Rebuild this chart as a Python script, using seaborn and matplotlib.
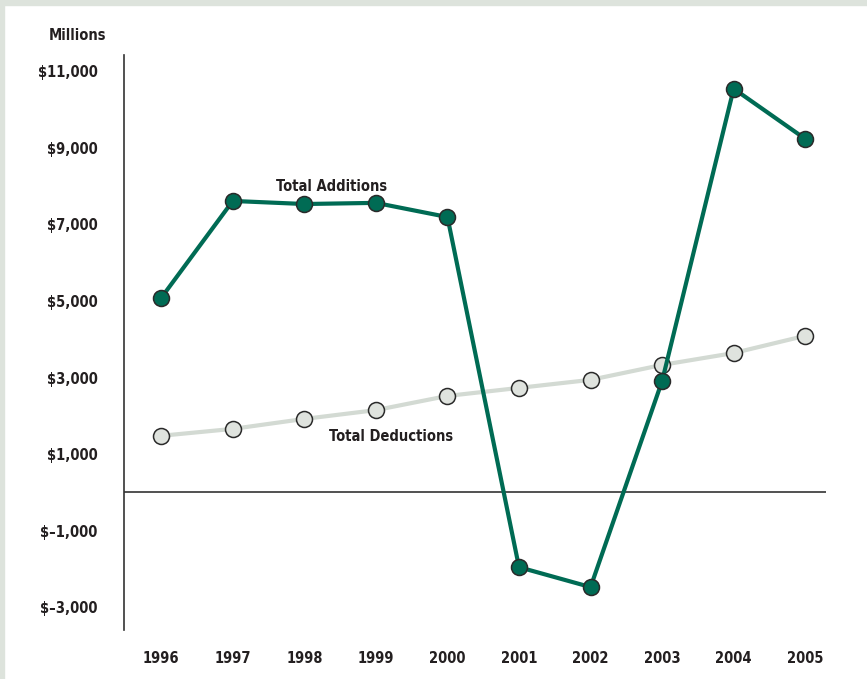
import matplotlib
matplotlib.use("Agg")
import matplotlib.pyplot as plt
import matplotlib.patches as patches
import seaborn as sns
import pandas as pd

years = [1996, 1997, 1998, 1999, 2000, 2001, 2002, 2003, 2004, 2005]
additions = [5080, 7610, 7530, 7560, 7190, -1950, -2470, 2910, 10540, 9230]
deductions = [1480, 1660, 1920, 2150, 2520, 2730, 2940, 3330, 3640, 4090]
yticks = [11000, 9000, 7000, 5000, 3000, 1000, -1000, -3000]
ytick_labels = ["$11,000", "$9,000", "$7,000", "$5,000", "$3,000", "$1,000",
                "$\u20131,000", "$\u20133,000"]

sns.set_style("white")
plt.rcParams['font.family'] = ['DejaVu Sans']
plt.rcParams['font.stretch'] = 'condensed'
plt.rcParams['font.weight'] = 'bold'

df = pd.DataFrame({"year": years, "additions": additions, "deductions": deductions})

fig = plt.figure(figsize=(8.67, 6.79), dpi=100)
fig.patch.set_facecolor("white")
# light frame at top and left
fig.patches.append(patches.Rectangle((0, 1 - 5 / 679), 1, 5 / 679, transform=fig.transFigure,
                                     color="#dde3dc", zorder=0))
fig.patches.append(patches.Rectangle((0, 0), 4 / 867, 1, transform=fig.transFigure,
                                     color="#dde3dc", zorder=0))

ax = fig.add_axes([124 / 867, 1 - 630 / 679, (826 - 124) / 867, (630 - 55) / 679])

green = "#006b54"
grey = "#d3dad3"

sns.lineplot(data=df, x="year", y="deductions", ax=ax, color=grey, linewidth=3.0,
             marker="o", markersize=11.5, markerfacecolor="#dfe3de",
             markeredgecolor="#2a2a2a", markeredgewidth=1.1, zorder=3)
sns.lineplot(data=df, x="year", y="additions", ax=ax, color=green, linewidth=3.0,
             marker="o", markersize=11.5, markerfacecolor=green,
             markeredgecolor="#2a2a2a", markeredgewidth=1.1, zorder=4)

ax.axhline(0, color="#333333", linewidth=1.2, zorder=2)

ax.set_xlim(1995.48, 2005.29)
ax.set_ylim(-3590, 11420)
ax.set_xticks(years)
ax.set_xticklabels([str(y) for y in years])
ax.set_yticks(yticks)
ax.set_yticklabels(ytick_labels)
ax.tick_params(axis="both", length=0, labelsize=10.5, colors="#231f20")
ax.tick_params(axis="y", pad=19)
ax.tick_params(axis="x", pad=15)
ax.set_xlabel("")
ax.set_ylabel("")

for s in ["top", "right", "bottom"]:
    ax.spines[s].set_visible(False)
ax.spines["left"].set_color("#333333")
ax.spines["left"].set_linewidth(1.2)

ax.text(1997.6, 8000, "Total Additions", ha="left", va="center", fontsize=10.5,
        fontweight="bold", color="#231f20")
ax.text(1998.35, 1450, "Total Deductions", ha="left", va="center", fontsize=10.5,
        fontweight="bold", color="#231f20")
fig.text(77 / 867, 1 - 35 / 679, "Millions", ha="center", va="center", fontsize=10.5,
         fontweight="bold", color="#231f20")

fig.savefig("out.png", dpi=100)
